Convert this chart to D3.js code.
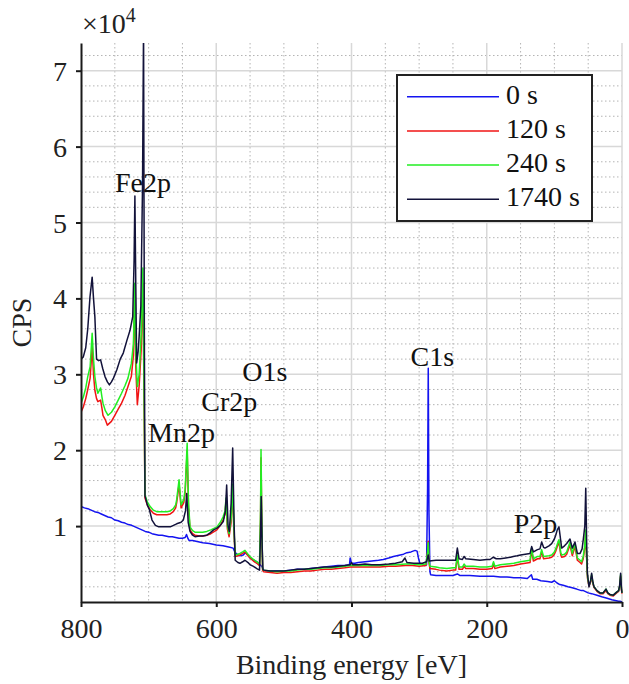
<!DOCTYPE html>
<html>
<head>
<meta charset="utf-8">
<script src="https://cdn.jsdelivr.net/npm/d3@7"></script>
<style>
  html, body { margin: 0; padding: 0; background: #fff; }
  svg { display: block; }
  svg text { font-family: "Liberation Serif", serif; }
</style>
</head>
<body>
<svg id="chart" width="629" height="684"></svg>
<script>
// ---------- DATA (binding energy [eV], CPS in units of 10^4) ----------
const seriesNames = ["0 s", "120 s", "240 s", "1740 s"];
const seriesColors = ["#1414f0", "#f01414", "#22ee22", "#12123a"];

const spectrum0s = [[800,1.26],[795,1.24],[790,1.23],[785,1.21],[780,1.19],[775,1.18],[770,1.16],[765,1.14],[760,1.12],[755,1.11],[750,1.08],[745,1.07],[740,1.05],[735,1.04],[730,1.02],[725,1.01],[720,0.99],[715,0.97],[710,0.95],[705,0.93],[700,0.92],[695,0.90],[690,0.89],[685,0.88],[680,0.88],[675,0.87],[670,0.86],[665,0.86],[660,0.85],[655,0.84],[650,0.84],[646,0.85],[644,0.89],[642,0.84],[640,0.81],[635,0.81],[630,0.80],[620,0.78],[610,0.77],[600,0.75],[590,0.74],[580,0.72],[575,0.71],[572,0.65],[568,0.62],[565,0.61],[560,0.62],[557,0.65],[553,0.62],[550,0.58],[545,0.55],[540,0.53],[535,0.49],[532,0.46],[530,0.42],[525,0.41],[520,0.41],[510,0.41],[500,0.41],[490,0.42],[480,0.43],[470,0.43],[460,0.44],[450,0.45],[440,0.46],[430,0.47],[420,0.48],[410,0.48],[403,0.49],[402,0.58],[400,0.51],[395,0.51],[390,0.52],[380,0.53],[370,0.54],[360,0.55],[353,0.56],[345,0.58],[338,0.60],[333,0.61],[328,0.62],[323,0.63],[318,0.65],[312,0.66],[306,0.68],[303,0.67],[301,0.58],[299,0.51],[295,0.49],[292,0.48],[289,0.49],[287.5,1.5],[286.5,3.08],[285.5,1.2],[284,0.40],[283,0.36],[275,0.35],[270,0.35],[260,0.35],[250,0.35],[243.5,0.37],[240,0.35],[235,0.35],[225,0.35],[210,0.34],[200,0.34],[190,0.34],[180,0.33],[170,0.33],[160,0.32],[155,0.32],[150,0.32],[140,0.31],[134,0.36],[132,0.30],[126,0.30],[120,0.28],[110,0.27],[104,0.26],[100,0.28],[96,0.25],[92,0.23],[87,0.22],[80,0.20],[75,0.19],[67,0.17],[60,0.15],[57,0.15],[50,0.12],[45,0.11],[37,0.09],[30,0.07],[22,0.05],[15,0.03],[10,0.02],[5,0.01],[3,0.01],[0,0.0]];

const spectrum120s = [[800,2.50],[796.6,2.57],[793,2.68],[790,2.80],[786.5,2.95],[783.5,3.36],[781.5,3.0],[779.5,2.79],[777,2.68],[775,2.64],[771,2.66],[769,2.55],[767.5,2.46],[764,2.40],[761,2.33],[755,2.38],[750,2.46],[745,2.54],[740,2.62],[735,2.72],[730.5,2.84],[725.6,2.97],[722.5,3.25],[720.5,4.1],[719,3.1],[716.7,2.60],[714,2.85],[711,3.32],[708.5,4.2],[707,2.9],[705.4,1.37],[702,1.28],[698,1.22],[693,1.17],[688,1.15],[680,1.15],[673,1.15],[668,1.16],[663.5,1.19],[660,1.24],[658.5,1.31],[655,1.55],[652,1.24],[648,1.31],[646,1.44],[643,2.0],[641,1.25],[638.8,0.95],[635,0.90],[631.4,0.88],[625,0.87],[620,0.87],[614,0.88],[608,0.90],[599,0.95],[594,1.01],[590,1.08],[587,1.16],[585.6,1.32],[583.5,0.96],[581,0.86],[578,1.05],[576,1.50],[574,0.96],[572,0.60],[568,0.61],[565,0.62],[561,0.64],[557.5,0.66],[553,0.61],[550,0.58],[545,0.54],[540,0.51],[536,0.48],[534.5,1.1],[533.8,1.9],[532.5,0.95],[531.5,0.42],[530,0.40],[520,0.39],[510,0.38],[500,0.39],[490,0.39],[480,0.40],[470,0.41],[460,0.41],[450,0.42],[440,0.43],[430,0.43],[420,0.44],[410,0.45],[402,0.46],[390,0.46],[380,0.46],[370,0.46],[358,0.46],[345,0.47],[335,0.47],[320,0.48],[310,0.48],[300,0.47],[290,0.48],[287.5,0.66],[286.5,0.80],[285.5,0.52],[284,0.44],[275,0.43],[270,0.42],[259,0.41],[250,0.42],[246,0.42],[243.5,0.60],[241,0.43],[236,0.43],[233.5,0.47],[231,0.44],[220,0.44],[210,0.43],[200,0.43],[192,0.44],[190,0.50],[188,0.44],[180,0.46],[170,0.47],[160,0.48],[150,0.50],[143,0.51],[136,0.52],[133.6,0.68],[131,0.54],[125,0.57],[121.3,0.57],[118.8,0.66],[116,0.57],[108,0.58],[104,0.59],[100,0.63],[98,0.67],[95.7,0.73],[93.2,0.79],[90.5,0.62],[89.2,0.59],[85,0.60],[81.8,0.63],[76.9,0.75],[73.5,0.61],[69.5,0.73],[66,0.55],[62,0.52],[59.8,0.50],[57.3,0.57],[55,0.72],[53.8,0.90],[52.3,0.57],[51,0.31],[48.8,0.21],[46.5,0.26],[44.9,0.34],[43,0.24],[41.4,0.19],[37,0.14],[32.6,0.11],[28,0.11],[23.7,0.15],[21,0.11],[17.8,0.09],[12.9,0.08],[7.9,0.12],[5,0.14],[3.5,0.20],[2,0.34],[0.8,0.16],[0,0.11]];

const spectrum240s = [[800,2.62],[796.6,2.70],[793,2.82],[790,2.97],[786.5,3.1],[783.5,3.54],[781.5,3.2],[779.5,2.97],[777,2.82],[775,2.75],[771,2.82],[769,2.70],[767.5,2.62],[764,2.52],[760,2.46],[755,2.50],[750,2.57],[745,2.66],[740,2.75],[735,2.85],[730.5,2.95],[725.6,3.14],[722.5,3.4],[720.5,4.2],[719,3.3],[716.7,2.84],[714,3.0],[711,3.54],[708.5,4.4],[707,3.0],[705.4,1.41],[702,1.32],[698,1.26],[693,1.21],[688,1.19],[680,1.19],[673,1.19],[668,1.20],[663.5,1.23],[660,1.28],[658.5,1.35],[655,1.61],[652,1.28],[648,1.35],[646,1.48],[643,2.09],[641,1.3],[638.8,0.99],[635,0.94],[631.4,0.92],[625,0.92],[620,0.92],[614,0.93],[608,0.95],[599,0.99],[594,1.05],[590,1.12],[587,1.2],[585.6,1.37],[583.5,1.0],[581,0.90],[578,1.1],[576,1.55],[574,1.0],[572,0.62],[568,0.63],[565,0.64],[561,0.66],[557.5,0.68],[553,0.63],[550,0.60],[545,0.56],[540,0.53],[536,0.50],[534.5,1.2],[533.8,2.01],[532.5,1.0],[531.5,0.44],[530,0.42],[520,0.41],[510,0.40],[500,0.41],[490,0.41],[480,0.42],[470,0.43],[460,0.43],[450,0.44],[440,0.45],[430,0.45],[420,0.46],[410,0.47],[402,0.48],[390,0.48],[380,0.48],[370,0.48],[358,0.48],[345,0.49],[335,0.49],[320,0.50],[310,0.50],[300,0.49],[290,0.50],[287.5,0.65],[286.5,0.78],[285.5,0.55],[284,0.47],[275,0.46],[270,0.45],[259,0.44],[250,0.45],[246,0.45],[243.5,0.62],[241,0.46],[236,0.46],[233.5,0.50],[231,0.47],[220,0.47],[210,0.46],[200,0.46],[192,0.47],[190,0.53],[188,0.47],[180,0.49],[170,0.50],[160,0.51],[150,0.53],[143,0.54],[136,0.55],[133.6,0.71],[131,0.57],[125,0.60],[121.3,0.60],[118.8,0.69],[116,0.60],[108,0.61],[104,0.62],[100,0.66],[98,0.70],[95.7,0.76],[93.2,0.82],[90.5,0.65],[89.2,0.62],[85,0.63],[81.8,0.66],[76.9,0.79],[73.5,0.64],[69.5,0.77],[66,0.58],[62,0.55],[59.8,0.53],[57.3,0.60],[55,0.75],[53.8,0.95],[52.3,0.6],[51,0.33],[48.8,0.22],[46.5,0.27],[44.9,0.36],[43,0.25],[41.4,0.20],[37,0.15],[32.6,0.12],[28,0.12],[23.7,0.17],[21,0.12],[17.8,0.10],[12.9,0.09],[7.9,0.13],[5,0.15],[3.5,0.21],[2,0.36],[0.8,0.17],[0,0.12]];

const spectrum1740s = [[800,3.20],[796.6,3.23],[793,3.35],[790,3.6],[786.7,4.02],[783.5,4.28],[781.5,4.0],[779.5,3.76],[777,3.2],[774,3.18],[771,3.19],[768,3.08],[764.5,2.97],[761,2.9],[758,2.86],[755,2.9],[752,2.95],[747,3.06],[742,3.2],[737.5,3.28],[732,3.45],[727.5,3.58],[723.5,3.76],[721.5,4.5],[720.3,5.35],[719,4.2],[717.7,3.15],[715.5,3.3],[714,3.5],[711.5,3.9],[709,5.5],[707.5,7.6],[706.3,3.5],[705.4,1.40],[702,1.28],[699,1.22],[695,1.08],[690,1.01],[685,0.99],[678,0.99],[668,0.99],[658.5,1.03],[652,1.05],[648.7,1.08],[645.5,1.2],[643.7,1.43],[641.5,1.05],[638.8,0.93],[635,0.88],[631.4,0.86],[625,0.87],[620,0.87],[614,0.88],[609,0.91],[604,0.95],[599.4,0.97],[594,1.01],[589.6,1.06],[586.5,1.2],[584.6,1.54],[582.5,1.0],[580.7,0.93],[578,1.3],[575.7,2.03],[573.5,1.0],[572,0.55],[568,0.52],[565,0.51],[561,0.53],[557.5,0.55],[553,0.52],[550,0.49],[545,0.47],[540,0.44],[536,0.42],[534.5,0.9],[533.5,1.39],[532,0.7],[531,0.43],[530,0.42],[520,0.41],[510,0.41],[500,0.41],[490,0.42],[480,0.43],[470,0.43],[460,0.44],[450,0.45],[440,0.46],[430,0.46],[420,0.47],[410,0.48],[402,0.49],[400,0.52],[398,0.49],[390,0.49],[380,0.50],[370,0.49],[358,0.49],[345,0.50],[335,0.51],[325,0.53],[321,0.58],[318,0.52],[308,0.51],[300,0.51],[295,0.51],[289,0.53],[286.5,0.62],[285,0.54],[275,0.55],[270,0.55],[259,0.55],[250,0.55],[246,0.55],[243.5,0.71],[241,0.57],[236,0.56],[233.5,0.60],[231,0.57],[220,0.56],[210,0.55],[200,0.56],[195,0.56],[190.3,0.59],[186,0.57],[180,0.57],[172,0.58],[165,0.59],[160.8,0.60],[155,0.61],[150,0.62],[143,0.63],[136,0.64],[133.6,0.73],[131,0.66],[125,0.69],[121.3,0.70],[118.8,0.79],[116,0.72],[113.9,0.71],[108,0.74],[104,0.77],[100,0.83],[98,0.88],[95.7,0.95],[93.2,0.99],[90.5,0.80],[89.2,0.71],[85,0.74],[81.8,0.77],[76.9,0.83],[73.5,0.71],[69.5,0.79],[66,0.64],[62,0.64],[59,0.70],[57.3,0.82],[55,1.0],[53.6,1.50],[52.3,0.8],[51.2,0.38],[48.8,0.2],[46.5,0.28],[44.9,0.38],[43,0.26],[41.4,0.2],[37,0.15],[32.6,0.12],[28,0.12],[23.7,0.17],[21,0.12],[17.8,0.10],[12.9,0.09],[7.9,0.13],[5,0.15],[3.5,0.22],[2,0.38],[0.8,0.18],[0,0.12]];

const xTicks = [800, 600, 400, 200, 0];
const yTicks = [1, 2, 3, 4, 5, 6, 7];
const peakLabels = ["Fe2p", "Mn2p", "Cr2p", "O1s", "C1s", "P2p"];
const peakLabelE = [749.7, 700.8, 622, 561.4, 312.6, 160];
const peakLabelV = [5.40, 2.11, 2.52, 2.91, 3.11, 0.91];

// ---------- LAYOUT ----------
const FONT = "'Liberation Serif', serif";
const FS = "28px";
const svg = d3.select("#chart");
const L = 81, R = 622, T = 43, B = 602;
const x = d3.scaleLinear().domain([800, 0]).range([L, R]);
const y = d3.scaleLinear().domain([0, 7.365]).range([B, T]);

// grid: minor dotted
const grid = svg.append("g");
const minorX = d3.range(0, 801, 50).filter(v => v % 200 !== 0);
const minorY = d3.range(1, 37).map(i => i * 0.2).filter(v => Math.abs(v - Math.round(v)) > 1e-6);
grid.selectAll(".mx").data(minorX).enter().append("line")
  .attr("x1", d => x(d)).attr("x2", d => x(d)).attr("y1", T).attr("y2", B)
  .attr("stroke", "#b4b4b4").attr("stroke-width", 1).attr("stroke-dasharray", "1.5,2.5");
grid.selectAll(".my").data(minorY).enter().append("line")
  .attr("x1", L).attr("x2", R).attr("y1", d => y(d)).attr("y2", d => y(d))
  .attr("stroke", "#b4b4b4").attr("stroke-width", 1).attr("stroke-dasharray", "1.5,2.5");
// grid: major solid
grid.selectAll(".Mx").data([600, 400, 200, 0]).enter().append("line")
  .attr("x1", d => x(d)).attr("x2", d => x(d)).attr("y1", T).attr("y2", B)
  .attr("stroke", "#d8d8d8").attr("stroke-width", 1.5);
grid.selectAll(".My").data(yTicks).enter().append("line")
  .attr("x1", L).attr("x2", R).attr("y1", d => y(d)).attr("y2", d => y(d))
  .attr("stroke", "#d8d8d8").attr("stroke-width", 1.5);

// clip
svg.append("clipPath").attr("id", "plotclip").append("rect")
  .attr("x", L).attr("y", T).attr("width", R - L + 2).attr("height", B - T);

const line = d3.line().x(d => x(d[0])).y(d => y(d[1]));
const allSeries = [spectrum0s, spectrum120s, spectrum240s, spectrum1740s];
const lines = svg.append("g").attr("clip-path", "url(#plotclip)");
allSeries.forEach((s, i) => {
  lines.append("path").datum(s).attr("d", line)
    .attr("fill", "none").attr("stroke", seriesColors[i])
    .attr("stroke-width", 1.5).attr("stroke-linejoin", "round");
});

// axes
const xAxis = d3.axisBottom(x).tickValues(xTicks).tickSize(5).tickSizeOuter(0).tickPadding(6).tickFormat(d3.format("d"));
const yAxis = d3.axisLeft(y).tickValues(yTicks).tickSize(5).tickSizeOuter(0).tickPadding(9).tickFormat(d3.format("d"));
const gx = svg.append("g").attr("transform", `translate(0,${B})`).call(xAxis);
const gy = svg.append("g").attr("transform", `translate(${L},0)`).call(yAxis);
[gx, gy].forEach(g => {
  g.attr("font-family", null);
  g.select(".domain").attr("stroke", "#1a1a1a").attr("stroke-width", 2);
  g.selectAll(".tick line").attr("stroke", "#1a1a1a").attr("stroke-width", 2);
  g.selectAll(".tick text").attr("fill", "#222").style("font-family", FONT).style("font-size", FS);
});
gy.selectAll(".tick text").attr("dy", "0.34em");
gx.selectAll(".tick text").attr("dy", "0.9em");

// multiplier
const mult = svg.append("text").attr("x", 82).attr("y", 33).attr("fill", "#222").style("font-family", FONT).style("font-size", FS);
mult.append("tspan").text("\u00d710");
mult.append("tspan").attr("dy", -11).style("font-size", "20px").text("4");

// axis labels
svg.append("text").attr("x", (L + R) / 2).attr("y", 674).attr("text-anchor", "middle")
  .attr("fill", "#222").style("font-family", FONT).style("font-size", FS).text("Binding energy [eV]");
svg.append("text").attr("transform", `translate(31,${(T + B) / 2}) rotate(-90)`).attr("text-anchor", "middle")
  .attr("fill", "#222").style("font-family", FONT).style("font-size", FS).text("CPS");

// peak labels
peakLabels.forEach((t, i) => {
  svg.append("text").attr("x", x(peakLabelE[i])).attr("y", y(peakLabelV[i]))
    .attr("fill", "#111").style("font-family", FONT).style("font-size", FS).text(t);
});

// legend
const lg = svg.append("g");
lg.append("rect").attr("x", 397).attr("y", 75).attr("width", 195).attr("height", 146)
  .attr("fill", "#fff").attr("stroke", "#222").attr("stroke-width", 2);
seriesNames.forEach((n, i) => {
  const yy = 96.7 + i * 34.2;
  lg.append("line").attr("x1", 407).attr("x2", 499).attr("y1", yy).attr("y2", yy)
    .attr("stroke", seriesColors[i]).attr("stroke-width", 1.5);
  lg.append("text").attr("x", 506).attr("y", yy + 6.8).attr("fill", "#111")
    .style("font-family", FONT).style("font-size", FS).text(n);
});
</script>
</body>
</html>
